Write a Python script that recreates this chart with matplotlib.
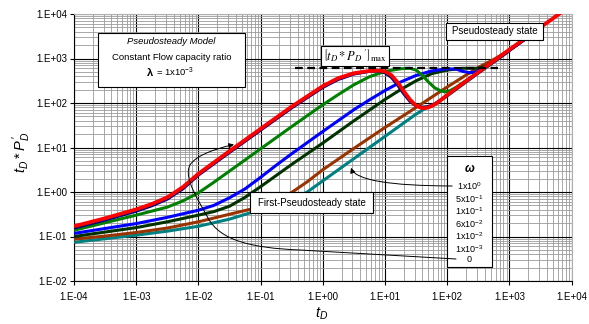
import numpy as np
import matplotlib
matplotlib.use("Agg")
import matplotlib.pyplot as plt
from matplotlib.patches import Rectangle, FancyArrowPatch
from matplotlib.path import Path
from matplotlib.ticker import FixedLocator, FuncFormatter, NullFormatter

plt.rcParams['font.family'] = ['Liberation Sans', 'DejaVu Sans']
plt.rcParams['mathtext.fontset'] = 'custom'
plt.rcParams['mathtext.rm'] = 'Liberation Sans'
plt.rcParams['mathtext.it'] = 'Liberation Sans:italic'
plt.rcParams['mathtext.bf'] = 'Liberation Sans:bold'

# =========================
# 1. DATA  (log10 of tD and log10 of tD*PD')
# =========================
omega_labels = ["1x10$^{0}$", "5x10$^{-1}$", "1x10$^{-1}$", "6x10$^{-2}$",
                "1x10$^{-2}$", "1x10$^{-3}$", "0"]
colors = ["#008080", "#993300", "#003300", "#0000FF", "#008000", "#000080", "#FF0000"]

x_decades = [-4, -3, -2, -1, 0, 1, 2, 3, 4]
y_decades = [-2, -1, 0, 1, 2, 3, 4]

teal_lt = [-4, -3.5, -3, -2.5, -2, -1.5, -1.17, -0.9, -0.7, -0.5, -0.35, -0.25, 0, 0.5, 1.0, 1.5, 1.65, 1.8, 2.0, 2.5, 3.0]
teal_ly = [-1.13, -1.05, -0.97, -0.88, -0.77, -0.61, -0.47, -0.36, -0.27, -0.17, -0.08, 0.0, 0.25, 0.75, 1.25, 1.75, 1.88, 1.96, 2.16, 2.67, 3.17]

brown_lt = [-4, -3.5, -3, -2.5, -2, -1.5, -1.17, -1.0, -0.75, -0.5, -0.25, 0, 0.5, 1.0, 1.5, 2.0, 2.5, 2.75, 3.0, 3.5]
brown_ly = [-1.06, -0.99, -0.91, -0.81, -0.67, -0.50, -0.39, -0.32, -0.19, -0.01, 0.23, 0.5, 0.98, 1.45, 1.9, 2.36, 2.8, 2.98, 3.19, 3.69]

dkgreen_lt = [-4, -3.5, -3, -2.5, -2, -1.75, -1.5, -1.25, -1.0, -0.75, -0.5, -0.25, 0, 0.5, 1.0, 1.25, 1.5, 1.75, 2.0, 2.25, 2.5, 2.65, 2.8, 3.0, 3.5]
dkgreen_ly = [-1.0, -0.9, -0.80, -0.67, -0.52, -0.44, -0.32, -0.12, 0.12, 0.37, 0.62, 0.86, 1.10, 1.60, 2.08, 2.30, 2.50, 2.66, 2.74, 2.78, 2.78, 2.84, 2.98, 3.19, 3.69]

blue_lt = [-4, -3.5, -3, -2.5, -2, -1.75, -1.5, -1.25, -1.0, -0.75, -0.5, -0.25, 0, 0.5, 0.75, 1.0, 1.25, 1.5, 1.75, 2.0, 2.15, 2.25, 2.37, 2.47, 2.58, 2.75, 3.0, 3.5]
blue_ly = [-0.93, -0.82, -0.71, -0.57, -0.41, -0.30, -0.13, 0.07, 0.33, 0.6, 0.86, 1.11, 1.36, 1.85, 2.07, 2.28, 2.47, 2.62, 2.72, 2.77, 2.76, 2.71, 2.68, 2.70, 2.78, 2.94, 3.19, 3.69]

green_lt = [-4, -3.5, -3, -2.5, -2.25, -2, -1.75, -1.5, -1.0, -0.5, 0, 0.25, 0.5, 0.75, 1.0, 1.25, 1.4, 1.5, 1.6, 1.7, 1.8, 1.9, 1.97, 2.05, 2.15, 2.3, 2.5, 3.0, 3.5]
green_ly = [-0.86, -0.69, -0.52, -0.34, -0.20, -0.02, 0.22, 0.47, 0.97, 1.47, 1.96, 2.19, 2.41, 2.59, 2.71, 2.77, 2.78, 2.74, 2.62, 2.47, 2.34, 2.27, 2.25, 2.28, 2.36, 2.5, 2.69, 3.19, 3.69]

navy_lt = [-4, -3.5, -3, -2.75, -2.5, -2.25, -2, -1.5, -1.0, -0.5, 0, 0.25, 0.5, 0.75, 0.9, 1.0, 1.1, 1.2, 1.3, 1.4, 1.5, 1.6, 1.7, 1.8, 1.9, 2.0, 2.25, 2.5, 3.0, 3.5]
navy_ly = [-0.81, -0.63, -0.43, -0.31, -0.16, 0.07, 0.38, 0.89, 1.39, 1.89, 2.35, 2.53, 2.65, 2.71, 2.72, 2.68, 2.58, 2.41, 2.21, 2.04, 1.93, 1.90, 1.92, 1.98, 2.07, 2.17, 2.43, 2.68, 3.18, 3.68]

red_lt = [-4, -3.5, -3, -2.75, -2.5, -2.25, -2, -1.5, -1.0, -0.5, 0, 0.25, 0.5, 0.75, 0.9, 1.0, 1.1, 1.2, 1.3, 1.4, 1.5, 1.6, 1.7, 1.8, 1.9, 2.0, 2.25, 2.5, 3.0, 3.5, 4.0]
red_ly = [-0.77, -0.59, -0.39, -0.27, -0.12, 0.11, 0.41, 0.92, 1.42, 1.92, 2.38, 2.56, 2.67, 2.72, 2.73, 2.71, 2.63, 2.47, 2.27, 2.08, 1.94, 1.88, 1.90, 1.97, 2.07, 2.18, 2.44, 2.69, 3.2, 3.7, 4.2]

curves = [(teal_lt, teal_ly), (brown_lt, brown_ly), (dkgreen_lt, dkgreen_ly),
          (blue_lt, blue_ly), (green_lt, green_ly), (navy_lt, navy_ly), (red_lt, red_ly)]

max_value = 600
max_lt = [-0.45, 2.82]

# =========================
# 2. FIGURE
# =========================
fig = plt.figure(figsize=(5.89, 3.24), dpi=100)
ax = fig.add_axes([74 / 589, 43 / 324, 497.6 / 589, 267 / 324])
ax.set_xscale('log')
ax.set_yscale('log')
ax.set_xlim(1e-4, 1e4)
ax.set_ylim(1e-2, 1e4)

for i, (lt, ly) in enumerate(curves):
    lw = 2.7 if i == len(curves) - 1 else 2.2
    ax.plot(np.power(10.0, lt), np.power(10.0, ly), color=colors[i], lw=lw,
            zorder=3 + i * 0.1, solid_capstyle='butt', solid_joinstyle='round')

ax.plot(np.power(10.0, max_lt), [max_value, max_value], color='black', lw=1.6,
        dashes=(3.5, 2), zorder=3.9)

# grid / ticks (only inside the plotted range)
for axis, dec in ((ax.xaxis, x_decades), (ax.yaxis, y_decades)):
    major = [10.0 ** d for d in dec]
    minor = [m * 10.0 ** d for d in dec[:-1] for m in range(2, 10)]
    axis.set_major_locator(FixedLocator(major))
    axis.set_minor_locator(FixedLocator(minor))
    axis.set_minor_formatter(NullFormatter())
fmt = FuncFormatter(lambda v, p: "1.E%+03d" % int(round(np.log10(v))))
ax.xaxis.set_major_formatter(fmt)
ax.yaxis.set_major_formatter(fmt)
ax.grid(which='minor', color='#9a9a9a', lw=0.6, zorder=0)
ax.grid(which='major', color='black', lw=0.8, zorder=0.5)
ax.tick_params(which='major', direction='out', length=3, width=0.8, labelsize=7)
ax.tick_params(axis='y', pad=2)
ax.tick_params(axis='x', pad=5)
ax.tick_params(which='minor', length=0)
ax.spines['top'].set_color('#b0b0b0')
ax.spines['right'].set_color('#b0b0b0')

fig.text(22 / 589, 1 - 152 / 324, r"$t_D * P_D^{\,\prime}$", rotation=90,
         fontsize=10.5, ha='center', va='center')
fig.text(322 / 589, 1 - 314 / 324, r"$t_D$", fontsize=10.5, ha='center', va='center')


# helpers: pixel -> axes fraction
def fx(px):
    return (px - 74) / 497.6


def fy(py):
    return (281 - py) / 267


def box(x0, y0, x1, y1):
    r = Rectangle((fx(x0), fy(y1)), fx(x1) - fx(x0), fy(y0) - fy(y1),
                  transform=ax.transAxes, facecolor='white', edgecolor='black',
                  lw=0.8, zorder=5)
    ax.add_patch(r)


# title box
box(97.7, 33.3, 245, 87.3)
ax.text(fx(171.3), fy(42), "Pseudosteady Model", style='italic', fontsize=6.8,
        ha='center', va='center', transform=ax.transAxes, zorder=6)
ax.text(fx(171.3), fy(57), "Constant Flow capacity ratio", fontsize=6.8,
        ha='center', va='center', transform=ax.transAxes, zorder=6)
ax.text(fx(150), fy(72.5), "λ", fontsize=8, fontweight='bold',
        ha='center', va='center', transform=ax.transAxes, zorder=6)
ax.text(fx(155.5), fy(72.5), "= 1x10$^{-3}$", fontsize=6.8,
        ha='left', va='center', transform=ax.transAxes, zorder=6)

# max box
box(320.7, 46, 389.3, 66)
ax.text(fx(355), fy(56), r"$\left[t_D * P_D\,'\right]_{\mathrm{max}}$",
        math_fontfamily='stix', fontsize=9, ha='center', va='center',
        transform=ax.transAxes, zorder=6)

# state boxes
box(446, 22.7, 543.3, 40)
ax.text(fx(494.7), fy(31.5), "Pseudosteady state", fontsize=7,
        ha='center', va='center', transform=ax.transAxes, zorder=6)
box(250, 192, 373, 213)
ax.text(fx(311.5), fy(202.5), "First-Pseudosteady state", fontsize=7,
        ha='center', va='center', transform=ax.transAxes, zorder=6)

# omega legend box
box(447.3, 156, 492.3, 267.3)
ax.text(fx(469.5), fy(169.5), "ω", fontsize=8.5, fontweight='bold', style='italic',
        ha='center', va='center', transform=ax.transAxes, zorder=6)
label_y = [186.5, 199, 211.5, 224, 236.5, 249, 260]
for lab, yy in zip(omega_labels, label_y):
    ax.text(fx(469.5), fy(yy), lab, fontsize=6.5, ha='center', va='center',
            transform=ax.transAxes, zorder=6)

# arrows
a1 = FancyArrowPatch((fx(455), fy(186)), (fx(350.5), fy(165)),
                     connectionstyle="angle3,angleA=0,angleB=90",
                     arrowstyle="-|>,head_length=3,head_width=1.5",
                     transform=ax.transAxes, color='black', lw=0.7, zorder=7)
ax.add_patch(a1)

verts = [(456, 259), (300, 250),
         (250, 248), (220, 240), (208, 218),
         (199, 201), (183, 178), (190, 165),
         (195, 157), (210, 150), (234, 144.5)]
codes = [Path.MOVETO, Path.LINETO,
         Path.CURVE4, Path.CURVE4, Path.CURVE4,
         Path.CURVE4, Path.CURVE4, Path.CURVE4,
         Path.CURVE4, Path.CURVE4, Path.CURVE4]
path = Path([(fx(a), fy(b)) for a, b in verts], codes)
a2 = FancyArrowPatch(path=path, arrowstyle="-|>,head_length=3,head_width=1.5",
                     transform=ax.transAxes, color='black', lw=0.7, zorder=7)
ax.add_patch(a2)

fig.savefig("out.png", dpi=100)
